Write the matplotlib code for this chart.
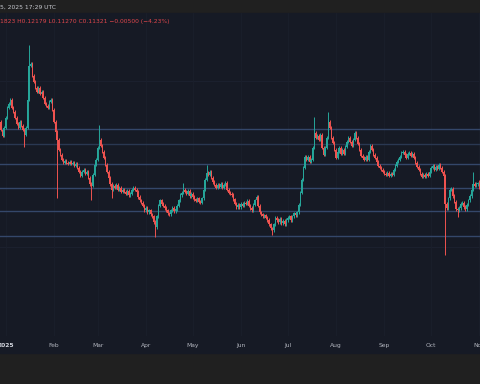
import matplotlib
matplotlib.use("Agg")
import matplotlib.pyplot as plt
import matplotlib.dates as mdates
from matplotlib.patches import Rectangle
import numpy as np
import pandas as pd

# daily closes, first candle 2024-12-28, last 2025-11-01
first_open = 0.187
closes = [
    0.180, 0.172, 0.166, 0.174, 0.184, 0.194, 0.198, 0.202, 0.194, 0.190,
    0.184, 0.178, 0.174, 0.180, 0.176, 0.172, 0.167, 0.174, 0.202, 0.236,
    0.238, 0.226, 0.220, 0.214, 0.210, 0.214, 0.208, 0.210, 0.204, 0.198,
    0.196, 0.194, 0.200, 0.202, 0.192, 0.180, 0.170, 0.162, 0.152, 0.147,
    0.142, 0.139, 0.141, 0.139, 0.138, 0.140, 0.138, 0.139, 0.136, 0.138,
    0.134, 0.130, 0.126, 0.130, 0.132, 0.128, 0.130, 0.124, 0.118, 0.116,
    0.127, 0.137, 0.142, 0.154, 0.162, 0.156, 0.150, 0.144, 0.137, 0.130,
    0.124, 0.118, 0.112, 0.116, 0.114, 0.117, 0.112, 0.114, 0.110, 0.112,
    0.110, 0.108, 0.111, 0.107, 0.108, 0.112, 0.114, 0.112, 0.110, 0.105,
    0.102, 0.099, 0.096, 0.092, 0.094, 0.090, 0.092, 0.088, 0.086, 0.080,
    0.075, 0.086, 0.096, 0.102, 0.098, 0.096, 0.094, 0.092, 0.089, 0.088,
    0.092, 0.094, 0.091, 0.093, 0.096, 0.102, 0.107, 0.109, 0.112, 0.110,
    0.108, 0.111, 0.106, 0.108, 0.105, 0.103, 0.101, 0.104, 0.100, 0.099,
    0.104, 0.112, 0.122, 0.129, 0.127, 0.130, 0.124, 0.120, 0.117, 0.114,
    0.117, 0.115, 0.118, 0.114, 0.117, 0.119, 0.112, 0.109, 0.108, 0.107,
    0.103, 0.098, 0.095, 0.097, 0.095, 0.098, 0.096, 0.099, 0.098, 0.101,
    0.096, 0.094, 0.092, 0.097, 0.102, 0.105, 0.096, 0.090, 0.088, 0.086,
    0.087, 0.084, 0.082, 0.078, 0.074, 0.072, 0.078, 0.084, 0.082, 0.080,
    0.083, 0.079, 0.081, 0.078, 0.082, 0.084, 0.086, 0.082, 0.086, 0.089,
    0.087, 0.090, 0.097, 0.109, 0.122, 0.134, 0.145, 0.142, 0.145, 0.140,
    0.142, 0.154, 0.169, 0.164, 0.166, 0.162, 0.167, 0.154, 0.147, 0.154,
    0.164, 0.180, 0.174, 0.164, 0.159, 0.152, 0.144, 0.150, 0.154, 0.148,
    0.152, 0.148, 0.155, 0.160, 0.164, 0.160, 0.156, 0.162, 0.169, 0.164,
    0.158, 0.152, 0.146, 0.144, 0.142, 0.145, 0.142, 0.150, 0.156, 0.152,
    0.147, 0.144, 0.140, 0.136, 0.134, 0.132, 0.130, 0.128, 0.127, 0.129,
    0.126, 0.128, 0.127, 0.132, 0.136, 0.140, 0.142, 0.145, 0.149, 0.150,
    0.147, 0.144, 0.148, 0.149, 0.146, 0.148, 0.144, 0.139, 0.135, 0.132,
    0.128, 0.125, 0.127, 0.125, 0.128, 0.126, 0.130, 0.134, 0.136, 0.132,
    0.135, 0.133, 0.137, 0.134, 0.130, 0.126, 0.098, 0.094, 0.104, 0.112,
    0.113, 0.106, 0.100, 0.093, 0.092, 0.094, 0.098, 0.099, 0.095, 0.093,
    0.097, 0.102, 0.106, 0.112, 0.118, 0.116, 0.118, 0.11821, 0.11321,
]

# the long wicks that stand out
wick_highs = {
    "2025-01-16": 0.257, "2025-03-02": 0.177, "2025-04-25": 0.119,
    "2025-05-10": 0.137, "2025-07-18": 0.185, "2025-07-27": 0.190,
    "2025-10-28": 0.130, "2025-11-01": 0.12179,
}
wick_lows = {
    "2025-01-13": 0.155, "2025-02-03": 0.104, "2025-02-25": 0.102,
    "2025-03-10": 0.104, "2025-04-07": 0.065, "2025-06-21": 0.067,
    "2025-10-10": 0.047, "2025-10-18": 0.085, "2025-11-01": 0.11270,
}

levels = [0.173, 0.138, 0.114, 0.091, 0.066]
minor_level = 0.158
grid_levels = [0.221, 0.055]

month_labels = ["2025", "Feb", "Mar", "Apr", "May", "Jun", "Jul", "Aug",
                "Sep", "Oct", "Nov"]

header = "5, 2025 17:29 UTC"
ohlc = "1823 H0.12179 L0.11270 C0.11321 \u22120.00500 (\u22124.23%)"

dates = pd.date_range("2024-12-28", periods=len(closes), freq="D")
opens = np.array([first_open] + closes[:-1])
closes_a = np.array(closes)
highs = np.maximum(opens, closes_a) + 0.0015
lows = np.minimum(opens, closes_a) - 0.0015
for d, v in wick_highs.items():
    highs[dates.get_loc(pd.Timestamp(d))] = v
for d, v in wick_lows.items():
    lows[dates.get_loc(pd.Timestamp(d))] = v

up = closes_a >= opens
colors = np.where(up, "#26a69a", "#ef5350")

fig = plt.figure(figsize=(4.8, 3.84), dpi=100, facecolor="#202020")
fig.patches.append(Rectangle((0, 31 / 384), 1, 340 / 384, transform=fig.transFigure,
                             color="#161a25", zorder=-5))
ax = fig.add_axes([0, 48 / 384, 1, 323 / 384])
ax.set_zorder(2)
ax.patch.set_alpha(0)

x = mdates.date2num(dates)
for g in grid_levels:
    ax.axhline(g, color="#1d2230", lw=0.6, zorder=0)
month_starts = pd.date_range("2025-01-01", periods=11, freq="MS")
for m in mdates.date2num(month_starts):
    ax.axvline(m, color="#1a1f2b", lw=0.6, zorder=0)

for lv in levels:
    ax.axhline(lv, color="#34476a", lw=1.0, zorder=1)
ax.axhline(minor_level, color="#2a3852", lw=1.0, zorder=1)

ax.vlines(x, lows, highs, colors=colors, lw=0.7, zorder=2)
body = np.maximum(np.abs(closes_a - opens), 0.0009)
ax.bar(x, body, bottom=np.minimum(opens, closes_a), width=0.85, color=colors,
       linewidth=0, zorder=3)

jan1 = mdates.date2num(pd.Timestamp("2025-01-01"))
ax.set_xlim(jan1 - 3.66, jan1 + 304.4)
ax.set_ylim(-0.034, 0.289)

ax.set_xticks(mdates.date2num(month_starts))
ax.set_xticklabels(month_labels)
ax.tick_params(axis="x", length=0, pad=5, labelsize=4.3, colors="#b2b5be")
ax.get_xticklabels()[0].set_fontweight("bold")
ax.get_xticklabels()[0].set_color("#d1d4dc")
ax.set_yticks([])
for s in ax.spines.values():
    s.set_visible(False)

fig.text(0.0, 1 - 7 / 384, header, ha="left", va="center", fontsize=4.3, color="#c8cad0")
fig.text(0.0, 1 - 22 / 384, ohlc, ha="left", va="center", fontsize=4.3, color="#e0474c")

fig.savefig("out.png", dpi=100, facecolor=fig.get_facecolor())
